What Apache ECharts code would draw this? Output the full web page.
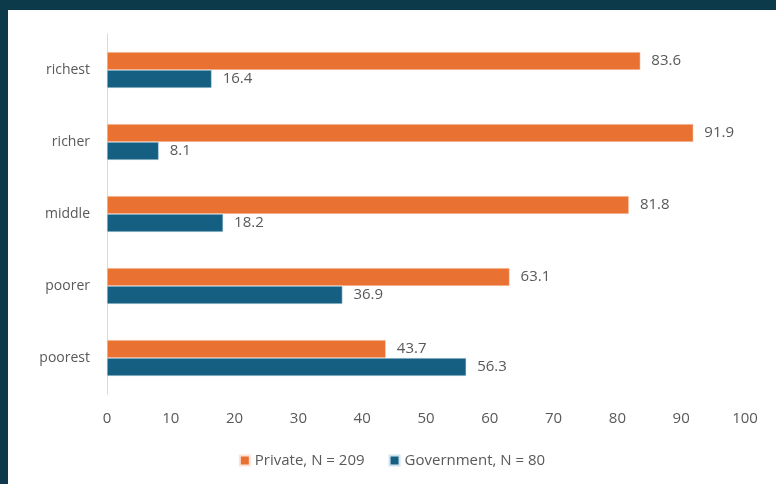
<!DOCTYPE html>
<html>
<head>
<meta charset="utf-8">
<script src="https://cdn.jsdelivr.net/npm/echarts@6/dist/echarts.min.js"></script>
<style>
html,body{margin:0;padding:0;background:#0d3a4a;}
#frame{position:absolute;left:0;top:0;width:776px;height:484px;background:#0d3a4a;}
#chart{position:absolute;left:8px;top:10px;width:768px;height:474px;background:#fff;}
</style>
</head>
<body>
<div id="frame"></div>
<div id="chart"></div>
<script>
const categories = ['richest', 'richer', 'middle', 'poorer', 'poorest'];
const privateValues = [83.6, 91.9, 81.8, 63.1, 43.7];
const governmentValues = [16.4, 8.1, 18.2, 36.9, 56.3];
const seriesNames = ['Private, N = 209', 'Government, N = 80'];

const chart = echarts.init(document.getElementById('chart'), null, {renderer: 'canvas'});
const textColor = '#595959';
const fontFamily = '"Open Sans", Lato, sans-serif';
const labelOpt = {show: true, position: 'right', distance: 11, color: textColor, fontSize: 15, fontFamily: fontFamily};
chart.setOption({
  animation: false,
  grid: {left: 99, right: 31, top: 24, bottom: 90, containLabel: false},
  legend: {
    bottom: 11, left: 'center',
    itemWidth: 10, itemHeight: 10, itemGap: 24,
    icon: 'rect',
    textStyle: {color: textColor, fontSize: 15, fontFamily: fontFamily}
  },
  xAxis: {
    type: 'value', min: 0, max: 100, interval: 10,
    axisLine: {show: false}, axisTick: {show: false},
    splitLine: {show: false},
    axisLabel: {color: textColor, fontSize: 15, margin: 17, fontFamily: fontFamily}
  },
  yAxis: {
    type: 'category', data: categories, inverse: true,
    axisLine: {show: true, lineStyle: {color: '#d9d9d9', width: 1}},
    axisTick: {show: false},
    axisLabel: {color: textColor, fontSize: 14, margin: 17, fontFamily: fontFamily}
  },
  series: [
    {name: seriesNames[0], type: 'bar', data: privateValues, barGap: '0%', barCategoryGap: '50%',
     itemStyle: {color: '#E97132', borderColor: '#fbe3d6', borderWidth: 0.5}, label: labelOpt},
    {name: seriesNames[1], type: 'bar', data: governmentValues,
     itemStyle: {color: '#156082', borderColor: '#d0e4ee', borderWidth: 0.5}, label: labelOpt}
  ]
});
</script>
</body>
</html>
